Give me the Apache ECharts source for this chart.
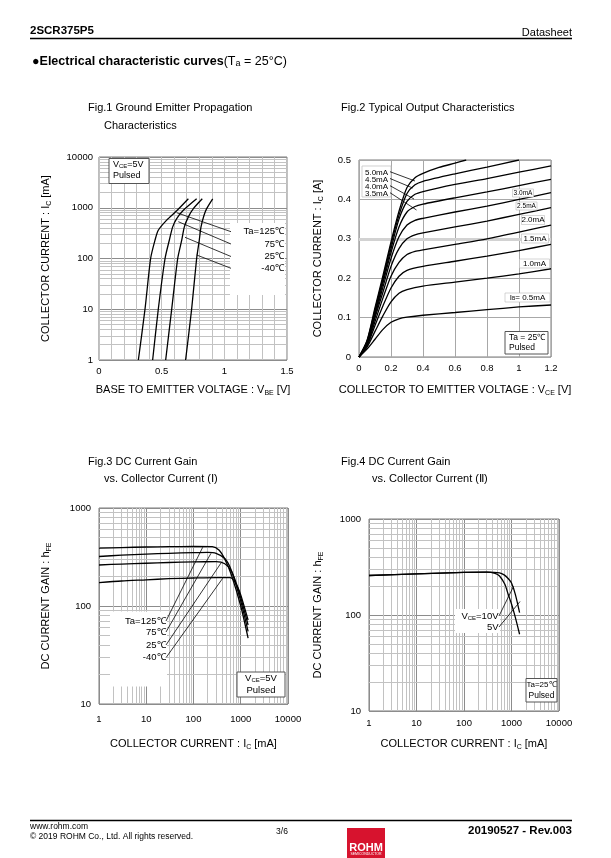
<!DOCTYPE html>
<html><head><meta charset="utf-8">
<script src="https://cdn.jsdelivr.net/npm/echarts@6/dist/echarts.min.js"></script>
<style>html,body{margin:0;padding:0;background:#fff}#c{width:611px;height:858px}</style>
</head><body><div id="c"></div>
<script>
// ---------- DATA ----------
// Fig.1  VBE [V] vs IC [mA]
const fig1Labels = ['Ta=125℃', '75℃', '25℃', '-40℃'];
const fig1_125 = [[0.314,1],[0.367,10],[0.412,100],[0.447,230],[0.473,360],[0.54,570],[0.62,870],[0.713,1500]];
const fig1_75  = [[0.428,1],[0.473,10],[0.527,100],[0.561,229],[0.588,420],[0.62,610],[0.673,890],[0.779,1500]];
const fig1_25  = [[0.532,1],[0.58,10],[0.628,100],[0.66,229],[0.681,420],[0.713,660],[0.753,960],[0.824,1500]];
const fig1_m40 = [[0.691,1],[0.739,10],[0.779,100],[0.8,229],[0.814,420],[0.838,710],[0.859,960],[0.907,1500]];
const fig1XTicks = [0, 0.5, 1, 1.5];

// Fig.2  VCE [V] vs IC [A], IB curves
const fig2Labels = ['IB= 0.5mA','1.0mA','1.5mA','2.0mA','2.5mA','3.0mA','3.5mA','4.0mA','4.5mA','5.0mA'];
const fig2_05 = [[0,0],[0.05,0.02],[0.1,0.045],[0.15,0.07],[0.2,0.088],[0.25,0.097],[0.3,0.101],[0.4,0.106],[0.6,0.113],[0.8,0.12],[1.0,0.127],[1.2,0.132]];
const fig2_10 = [[0,0],[0.05,0.025],[0.1,0.065],[0.15,0.105],[0.2,0.14],[0.25,0.162],[0.3,0.171],[0.4,0.18],[0.6,0.19],[0.8,0.2],[1.0,0.211],[1.2,0.224]];
const fig2_15 = [[0,0],[0.05,0.028],[0.1,0.08],[0.15,0.13],[0.2,0.175],[0.25,0.205],[0.3,0.22],[0.4,0.23],[0.6,0.243],[0.8,0.256],[1.0,0.27],[1.2,0.286]];
const fig2_20 = [[0,0],[0.05,0.03],[0.1,0.09],[0.15,0.15],[0.2,0.205],[0.25,0.24],[0.3,0.26],[0.35,0.268],[0.4,0.272],[0.6,0.286],[0.8,0.3],[1.0,0.317],[1.2,0.335]];
const fig2_25 = [[0,0],[0.05,0.032],[0.1,0.1],[0.15,0.165],[0.2,0.23],[0.25,0.275],[0.3,0.3],[0.35,0.31],[0.4,0.315],[0.6,0.33],[0.8,0.345],[1.0,0.362],[1.2,0.379]];
const fig2_30 = [[0,0],[0.05,0.034],[0.1,0.105],[0.15,0.178],[0.2,0.25],[0.25,0.305],[0.3,0.335],[0.35,0.347],[0.4,0.352],[0.6,0.368],[0.8,0.383],[1.0,0.4],[1.2,0.417]];
const fig2_35 = [[0,0],[0.05,0.036],[0.1,0.11],[0.15,0.188],[0.2,0.265],[0.25,0.33],[0.3,0.368],[0.35,0.382],[0.4,0.388],[0.6,0.404],[0.8,0.419],[1.0,0.435],[1.2,0.451]];
const fig2_40 = [[0,0],[0.05,0.038],[0.1,0.115],[0.15,0.195],[0.2,0.275],[0.25,0.35],[0.3,0.395],[0.35,0.413],[0.4,0.42],[0.6,0.438],[0.8,0.453],[1.0,0.469],[1.2,0.485]];
const fig2_45 = [[0,0],[0.05,0.04],[0.1,0.12],[0.15,0.2],[0.2,0.285],[0.25,0.36],[0.3,0.415],[0.35,0.437],[0.4,0.446],[0.6,0.465],[0.8,0.482],[1.0,0.5]];
const fig2_50 = [[0,0],[0.05,0.042],[0.1,0.125],[0.15,0.207],[0.2,0.292],[0.25,0.37],[0.3,0.43],[0.35,0.455],[0.4,0.466],[0.5,0.481],[0.6,0.492],[0.67,0.5]];

// Fig.3  IC [mA] vs hFE, temperatures
const fig3Labels = ['Ta=125℃', '75℃', '25℃', '-40℃'];
const fig3_125 = [[1,390],[3,395],[10,400],[30,403],[100,405],[250,403],[350,370],[460,300],[630,210],[1000,100],[1430,47]];
const fig3_75  = [[1,320],[3,330],[10,338],[30,345],[100,350],[200,352],[300,345],[460,305],[630,232],[1000,112],[1430,55]];
const fig3_25  = [[1,262],[3,268],[10,273],[30,278],[100,282],[300,283],[460,270],[630,228],[800,172],[1000,122],[1430,64]];
const fig3_m40 = [[1,173],[3,180],[10,185],[30,190],[100,193],[300,195],[600,195],[700,185],[850,158],[1000,130],[1430,72]];

// Fig.4  IC [mA] vs hFE, VCE
const fig4Labels = ['VCE=10V', '5V'];
const fig4_10V = [[1,258],[10,268],[100,278],[300,280],[560,275],[700,262],[850,240],[1000,215],[1200,165],[1480,106]];
const fig4_5V  = [[1,258],[10,268],[100,278],[300,280],[450,272],[560,255],[720,210],[850,165],[1000,130],[1200,95],[1480,63]];

// ---------- CHART ----------
const FF = '"Liberation Sans", Arial, Helvetica, sans-serif';
const MAJ = '#8c8c8c', MIN = '#c2c2c2';
const chart = echarts.init(document.getElementById('c'), null, {renderer: 'canvas'});

const minorLog = [];
[1,10,100,1000].forEach(d => { for (let k = 2; k <= 9; k++) minorLog.push(k * d); });

function gridLines(xi, xs, ys, color, width) {
  return {
    type: 'line', xAxisIndex: xi, yAxisIndex: xi, data: [], z: 1, silent: true,
    markLine: {
      z: 1, silent: true, symbol: ['none','none'], animation: false,
      label: {show: false}, emphasis: {disabled: true},
      lineStyle: {color: color, width: width || 1, type: 'solid'},
      data: xs.map(v => ({xAxis: v})).concat(ys.map(v => ({yAxis: v})))
    }
  };
}
function curve(xi, data) {
  return {type: 'line', xAxisIndex: xi, yAxisIndex: xi, data: data, showSymbol: false,
    smooth: 0.25, zlevel: 1, z: 6, silent: true, lineStyle: {color: '#000', width: 1.3}, animation: false};
}
const tickFont = {fontSize: 9.5, fontFamily: FF, color: '#000'};
const nameStyle = {fontSize: 11, lineHeight: 15, fontFamily: FF, color: '#000',
  rich: {s: {fontSize: 7, fontFamily: FF, color: '#000', verticalAlign: 'bottom', lineHeight: 8}}};
function baseAxis(extra) {
  return Object.assign({
    axisLine: {show: false}, axisTick: {show: false},
    splitLine: {show: true, lineStyle: {color: MAJ, width: 1}},
    nameLocation: 'middle', nameTextStyle: nameStyle
  }, extra);
}

const grids = [
  {left: 99, top: 157, width: 188, height: 203},
  {left: 359, top: 160, width: 192, height: 197},
  {left: 99, top: 508, width: 189, height: 196},
  {left: 369, top: 519, width: 190, height: 192}
].map(g => Object.assign(g, {show: true, borderColor: '#7a7a7a', borderWidth: 1, backgroundColor: 'transparent'}));

const logFmt = v => String(Math.round(v));

const option = {
  animation: false,
  backgroundColor: '#fff',
  grid: grids,
  xAxis: [
    baseAxis({gridIndex: 0, type: 'value', min: 0, max: 1.5, interval: 0.1,
      splitLine: {show: true, lineStyle: {color: MIN, width: 1}},
      axisLabel: Object.assign({}, tickFont, {margin: 6, interval: 0,
        formatter: v => { const r = Math.round(v * 10) / 10; return fig1XTicks.indexOf(r) >= 0 ? String(r) : ''; }}),
      name: 'BASE TO EMITTER VOLTAGE : V{s|BE} [V]', nameGap: 22}),
    baseAxis({gridIndex: 1, type: 'value', min: 0, max: 1.2, interval: 0.2,
      splitLine: {show: true, lineStyle: {color: '#a8a8a8', width: 1}},
      axisLabel: Object.assign({}, tickFont, {margin: 6}),
      name: 'COLLECTOR TO EMITTER VOLTAGE : V{s|CE} [V]', nameGap: 25}),
    baseAxis({gridIndex: 2, type: 'log', logBase: 10, min: 1, max: 10000, splitNumber: 4,
      axisLabel: Object.assign({}, tickFont, {margin: 10, formatter: logFmt}),
      name: 'COLLECTOR CURRENT : I{s|C} [mA]', nameGap: 32}),
    baseAxis({gridIndex: 3, type: 'log', logBase: 10, min: 1, max: 10000, splitNumber: 4,
      axisLabel: Object.assign({}, tickFont, {margin: 7, formatter: logFmt}),
      name: 'COLLECTOR CURRENT : I{s|C} [mA]', nameGap: 25})
  ],
  yAxis: [
    baseAxis({gridIndex: 0, type: 'log', logBase: 10, min: 1, max: 10000, splitNumber: 4,
      axisLabel: Object.assign({}, tickFont, {margin: 6, formatter: logFmt}),
      name: 'COLLECTOR CURRENT : I{s|C} [mA]', nameGap: 46}),
    baseAxis({gridIndex: 1, type: 'value', min: 0, max: 0.5, interval: 0.1,
      splitLine: {show: true, lineStyle: {color: '#a8a8a8', width: 1}},
      axisLabel: Object.assign({}, tickFont, {margin: 8}),
      name: 'COLLECTOR CURRENT : I{s|C} [A]', nameGap: 34}),
    baseAxis({gridIndex: 2, type: 'log', logBase: 10, min: 10, max: 1000, splitNumber: 2,
      axisLabel: Object.assign({}, tickFont, {margin: 8, formatter: logFmt}),
      name: 'DC CURRENT GAIN : h{s|FE}', nameGap: 46}),
    baseAxis({gridIndex: 3, type: 'log', logBase: 10, min: 10, max: 1000, splitNumber: 2,
      axisLabel: Object.assign({}, tickFont, {margin: 8, formatter: logFmt}),
      name: 'DC CURRENT GAIN : h{s|FE}', nameGap: 44})
  ],
  series: [
    gridLines(0, [], minorLog, MIN),
    gridLines(1, [], [0.3], '#d2d2d2', 3),
    gridLines(2, minorLog, minorLog.filter(v => v > 10 && v < 1000), MIN),
    gridLines(3, minorLog, minorLog.filter(v => v > 10 && v < 1000), MIN),
    curve(0, fig1_125), curve(0, fig1_75), curve(0, fig1_25), curve(0, fig1_m40),
    curve(1, fig2_05), curve(1, fig2_10), curve(1, fig2_15), curve(1, fig2_20), curve(1, fig2_25),
    curve(1, fig2_30), curve(1, fig2_35), curve(1, fig2_40), curve(1, fig2_45), curve(1, fig2_50),
    curve(2, fig3_125), curve(2, fig3_75), curve(2, fig3_25), curve(2, fig3_m40),
    curve(3, fig4_10V), curve(3, fig4_5V)
  ],
  graphic: []
};

// ---------- ANNOTATIONS ----------
const G = [];
function T(x, y, text, o) {
  o = o || {};
  G.push({type: 'text', x: x, y: y, zlevel: 1, z: 20, silent: true, style: {
    text: text, fontSize: o.size || 11, fontFamily: FF, fontWeight: o.bold ? 'bold' : 'normal',
    fill: o.color || '#000', align: o.align || 'left', verticalAlign: o.va || 'middle',
    rich: o.rich || {}
  }});
}
function R(x, y, w, h, stroke, fill, lw) {
  G.push({type: 'rect', zlevel: 1, z: 15, silent: true, shape: {x: x, y: y, width: w, height: h},
    style: {fill: fill || '#fff', stroke: stroke || null, lineWidth: lw || 1}});
}
function L(x1, y1, x2, y2, w, c) {
  G.push({type: 'line', zlevel: 1, z: 19, silent: true, shape: {x1: x1, y1: y1, x2: x2, y2: y2},
    style: {stroke: c || '#000', lineWidth: w || 0.8}});
}
const subRich = sz => ({s: {fontSize: sz, fontFamily: FF, verticalAlign: 'bottom', lineHeight: sz + 1}});

// Header
T(30, 31, '2SCR375P5', {bold: true, size: 11.5});
T(572, 33, 'Datasheet', {size: 11, align: 'right'});
L(30, 38.5, 572, 38.5, 1.3);
T(32, 62, '{b|●Electrical characteristic curves}(T{s|a} = 25°C)', {size: 12.5,
  rich: Object.assign({b: {fontSize: 12.5, fontWeight: 'bold', fontFamily: FF}}, subRich(9))});

// Titles
T(88, 108, 'Fig.1 Ground Emitter Propagation', {size: 11});
T(104, 126, 'Characteristics', {size: 11});
T(341, 108, 'Fig.2 Typical Output Characteristics', {size: 11});
T(88, 462, 'Fig.3 DC Current Gain', {size: 11});
T(104, 479, 'vs. Collector Current (Ⅰ)', {size: 11});
T(341, 462, 'Fig.4 DC Current Gain', {size: 11});
T(372, 479, 'vs. Collector Current (Ⅱ)', {size: 11});

// Fig1 annotations
R(109, 158.5, 40, 25, '#555', '#fff', 1);
T(113, 165, 'V{s|CE}=5V', {size: 9, rich: subRich(6)});
T(113, 176, 'Pulsed', {size: 9});
R(230, 223, 55, 72, null, '#fff');
[[176.7,212.7,231,231.7],[178.3,221.7,231,244],[185,237.3,231,256.5],[196.7,255,231,268.3]].forEach(a => L(a[0],a[1],a[2],a[3]));
[231.7, 244, 256.5, 268.3].forEach((y, i) => T(284, y, fig1Labels[i], {size: 9.5, align: 'right'}));

// Fig2 annotations
R(362, 166, 29, 31, '#bbb', '#fff', 0.7);
[172.7, 179.5, 186.5, 193.3].forEach((y, i) => T(365, y, fig2Labels[9 - i], {size: 8}));
[[390,171.7,415,181],[390,178.5,412.7,188],[390,185.7,414,199],[390,192.7,416.5,210]].forEach(a => L(a[0],a[1],a[2],a[3]));
const f2r = [[523,193,21,7,6.5,5],[526.5,206,21,7,6.5,4],[533,220,23,8,8,3],[535,238.5,27,8,8,2],[534.5,263.5,30,8,8,1]];
f2r.forEach(r => { R(r[0] - r[2]/2, r[1] - r[3]/2 - 0.5, r[2], r[3] + 1, '#bbb', '#fff', 0.6); T(r[0], r[1], fig2Labels[r[5]], {size: r[4], align: 'center'}); });
R(505, 293, 45, 9, '#bbb', '#fff', 0.6);
T(527.5, 297.5, 'I{s|B}= 0.5mA', {size: 8, align: 'center', rich: subRich(5)});
R(505, 331.5, 43, 22.5, '#555', '#fff', 1);
T(509, 338, 'Ta = 25℃', {size: 8.5});
T(509, 348, 'Pulsed', {size: 8.5});

// Fig3 annotations
R(110, 611.5, 57, 75, null, '#fff');
[[166,621,202.7,547.3],[166,632,211,553.3],[166,645,221,563],[166,657.7,222.7,578.3]].forEach(a => L(a[0],a[1],a[2],a[3]));
[621, 632, 645, 657.7].forEach((y, i) => T(165.5, y, fig3Labels[i], {size: 9.5, align: 'right'}));
R(237, 672, 48, 25, '#555', '#fff', 1);
T(261, 678.5, 'V{s|CE}=5V', {size: 9.5, align: 'center', rich: subRich(6)});
T(261, 690, 'Pulsed', {size: 9.5, align: 'center'});

// Fig4 annotations
R(455, 609, 45, 24, null, '#fff');
T(498.5, 616, 'V{s|CE}=10V', {size: 9.5, align: 'right', rich: subRich(6)});
T(498.5, 627, '5V', {size: 9.5, align: 'right'});
L(499, 616, 513.5, 586.5); L(499, 627, 520, 601.5);
R(526, 678.5, 31, 23.5, '#555', '#fff', 1);
T(541.5, 685, 'Ta=25℃', {size: 8, align: 'center'});
T(541.5, 696, 'Pulsed', {size: 8.5, align: 'center'});

// Footer
L(30, 820.5, 572, 820.5, 1.3);
T(30, 827, 'www.rohm.com', {size: 8.5});
T(30, 837, '© 2019 ROHM Co., Ltd. All rights reserved.', {size: 8.5});
T(282, 832, '3/6', {size: 8.5, align: 'center'});
R(347, 828, 38, 30, null, '#d7132e');
T(366, 848, 'ROHM', {size: 11, bold: true, color: '#fff', align: 'center'});
T(366, 854.5, 'SEMICONDUCTOR', {size: 3.5, color: '#fff', align: 'center'});
T(572, 831, '20190527 - Rev.003', {size: 11.5, bold: true, align: 'right'});

option.graphic = G;
chart.setOption(option);
</script>
</body></html>
